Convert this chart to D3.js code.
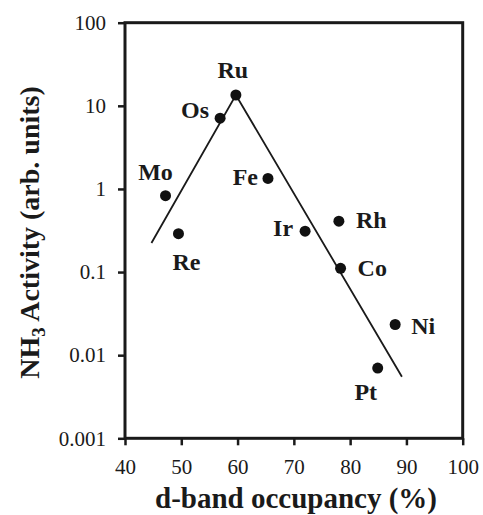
<!DOCTYPE html>
<html>
<head>
<meta charset="utf-8">
<script src="https://cdn.jsdelivr.net/npm/d3@7"></script>
<style>
  body { margin: 0; background: #fff; }
  svg text { font-family: 'Liberation Serif', 'Times New Roman', serif; fill: #1a1a1a; }
</style>
</head>
<body>
<div id="chart"></div>
<script>
// values
const metals = ['Mo', 'Re', 'Os', 'Ru', 'Fe', 'Ir', 'Rh', 'Co', 'Ni', 'Pt']
const occupancy = [47.2, 49.5, 56.9, 59.7, 65.4, 72.0, 78.0, 78.3, 88.0, 84.9]
const activity = [0.83, 0.29, 7.1, 13.5, 1.34, 0.31, 0.41, 0.111, 0.0234, 0.0070]

// volcano trend line
const trendX = [44.7, 59.7, 89.2]
const trendY = [0.224, 13.5, 0.0055]

const xTicks = [40, 50, 60, 70, 80, 90, 100]
const yTicks = [0.001, 0.01, 0.1, 1, 10, 100]

// label placement relative to each point
const labelPos = {
  Mo: [-10, -16, 'middle'],
  Re: [8, 36, 'middle'],
  Os: [-11, 0, 'end'],
  Ru: [-3, -17, 'middle'],
  Fe: [-10, 7, 'end'],
  Ir: [-12, 5, 'end'],
  Rh: [17, 7, 'start'],
  Co: [17, 8, 'start'],
  Ni: [16, 10, 'start'],
  Pt: [-12, 32, 'middle']
}

const W = 483
const H = 515
const margin = { top: 22.7, right: 20.3, bottom: 76.7, left: 125 }
const width = W - margin.left - margin.right
const height = H - margin.top - margin.bottom

const svg = d3.select('#chart').append('svg')
  .attr('width', W)
  .attr('height', H)

const g = svg.append('g')
  .attr('transform', `translate(${margin.left},${margin.top})`)

const x = d3.scaleLinear().domain([40, 100]).range([0, width])
const y = d3.scaleLog().domain([0.001, 100]).range([height, 0])

const fmt = d => (d >= 1 ? d3.format('d')(d) : String(d))

const xAxis = g.append('g')
  .attr('transform', `translate(0,${height})`)
  .call(d3.axisBottom(x).tickValues(xTicks).tickSize(7).tickPadding(14).tickSizeOuter(0))
xAxis.selectAll('text').attr('font-size', 21)

const yAxis = g.append('g')
  .call(d3.axisLeft(y).tickValues(yTicks).tickFormat(fmt).tickSize(7).tickPadding(12).tickSizeOuter(0))
yAxis.selectAll('text').attr('font-size', 21)

g.selectAll('.domain').remove()
g.selectAll('.tick line').attr('stroke', '#1a1a1a').attr('stroke-width', 2.5)

// frame
g.append('rect')
  .attr('x', 0)
  .attr('y', 0)
  .attr('width', width)
  .attr('height', height)
  .attr('fill', 'none')
  .attr('stroke', '#1a1a1a')
  .attr('stroke-width', 3)

const line = d3.line()
  .x(d => x(d[0]))
  .y(d => y(d[1]))

g.append('path')
  .datum(trendX.map((v, i) => [v, trendY[i]]))
  .attr('d', line)
  .attr('fill', 'none')
  .attr('stroke', '#1a1a1a')
  .attr('stroke-width', 1.8)

const pts = metals.map((m, i) => ({ name: m, x: occupancy[i], y: activity[i] }))

g.selectAll('circle.pt')
  .data(pts)
  .enter().append('circle')
  .attr('class', 'pt')
  .attr('cx', d => x(d.x))
  .attr('cy', d => y(d.y))
  .attr('r', 5.5)
  .attr('fill', '#111')

g.selectAll('text.lbl')
  .data(pts)
  .enter().append('text')
  .attr('class', 'lbl')
  .attr('x', d => x(d.x) + labelPos[d.name][0])
  .attr('y', d => y(d.y) + labelPos[d.name][1])
  .attr('text-anchor', d => labelPos[d.name][2])
  .attr('font-size', 24)
  .attr('font-weight', 'bold')
  .text(d => d.name)

// axis titles
svg.append('text')
  .attr('x', 296)
  .attr('y', 508)
  .attr('text-anchor', 'middle')
  .attr('font-size', 29)
  .attr('font-weight', 'bold')
  .text('d-band occupancy (%)')

const yt = svg.append('text')
  .attr('transform', `translate(39,${margin.top + height / 2 + 2}) rotate(-90)`)
  .attr('text-anchor', 'middle')
  .attr('font-size', 28)
  .attr('font-weight', 'bold')
yt.append('tspan').text('NH')
yt.append('tspan').text('3').attr('font-size', 19).attr('dy', 6)
yt.append('tspan').text(' Activity (arb. units)').attr('dy', -6)
</script>
</body>
</html>
